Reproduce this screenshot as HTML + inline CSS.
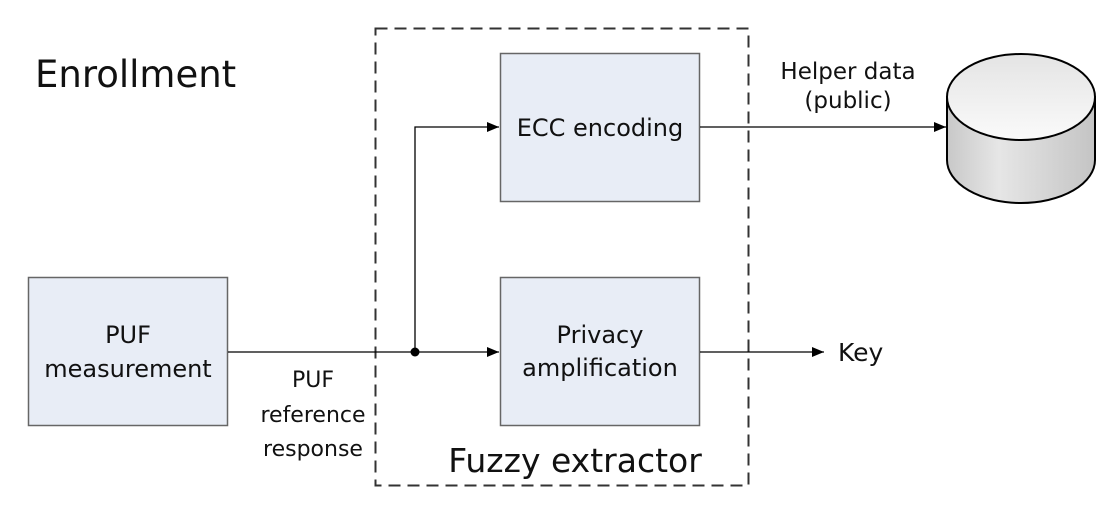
<!DOCTYPE html>
<html><head><style>body{margin:0;background:#fff}svg{display:block}text{font-family:"DejaVu Sans","Liberation Sans",sans-serif;fill:#111}</style></head>
<body>
<svg width="1110" height="508" viewBox="0 0 1110 508" xmlns="http://www.w3.org/2000/svg">
<defs>
<marker id="a" markerWidth="12" markerHeight="10" refX="12" refY="5" orient="auto" markerUnits="userSpaceOnUse"><path d="M0,0 L12,5 L0,10 z" fill="#000"/></marker>
<linearGradient id="cy" x1="0" x2="1" y1="0" y2="0"><stop offset="0" stop-color="#c8c8c8"/><stop offset="0.35" stop-color="#e6e6e6"/><stop offset="1" stop-color="#c4c4c4"/></linearGradient>
<linearGradient id="ct" x1="0" x2="0" y1="0" y2="1"><stop offset="0" stop-color="#e4e4e4"/><stop offset="1" stop-color="#fafafa"/></linearGradient>
</defs>
<rect x="375.5" y="28.5" width="373" height="457" fill="none" stroke="#333" stroke-width="2" stroke-dasharray="12,7"/>
<text x="35" y="87" font-size="37">Enrollment</text>
<rect x="500.5" y="53.5" width="199" height="148" fill="#e8edf6" stroke="#666" stroke-width="1.5"/>
<text x="600" y="136" font-size="24" text-anchor="middle">ECC encoding</text>
<rect x="500.5" y="277.5" width="199" height="148" fill="#e8edf6" stroke="#666" stroke-width="1.5"/>
<text x="600" y="343" font-size="24" text-anchor="middle">Privacy</text>
<text x="600" y="376" font-size="24" text-anchor="middle">amplification</text>
<rect x="28.5" y="277.5" width="199" height="148" fill="#e8edf6" stroke="#666" stroke-width="1.5"/>
<text x="128" y="343" font-size="24" text-anchor="middle">PUF</text>
<text x="128" y="377" font-size="24" text-anchor="middle">measurement</text>
<text x="313" y="387" font-size="22" text-anchor="middle">PUF</text>
<text x="313" y="422" font-size="22" text-anchor="middle">reference</text>
<text x="313" y="456" font-size="22" text-anchor="middle">response</text>
<text x="575" y="472" font-size="33" text-anchor="middle">Fuzzy extractor</text>
<g stroke="#000" stroke-width="1.3" fill="none">
<path d="M228 352 H499" marker-end="url(#a)"/>
<path d="M415 352 V127 H499" marker-end="url(#a)"/>
<path d="M700 127 H946" marker-end="url(#a)"/>
<path d="M700 352 H824" marker-end="url(#a)"/>
</g>
<circle cx="415" cy="352" r="4.5" fill="#000"/>
<text x="838" y="361" font-size="25">Key</text>
<text x="848" y="79" font-size="23" text-anchor="middle">Helper data</text>
<text x="848" y="108" font-size="23" text-anchor="middle">(public)</text>
<path d="M947 97 V160 A74 43 0 0 0 1095 160 V97 Z" fill="url(#cy)" stroke="#000" stroke-width="2"/>
<ellipse cx="1021" cy="97" rx="74" ry="43" fill="url(#ct)" stroke="#000" stroke-width="2"/>
</svg>
</body></html>
